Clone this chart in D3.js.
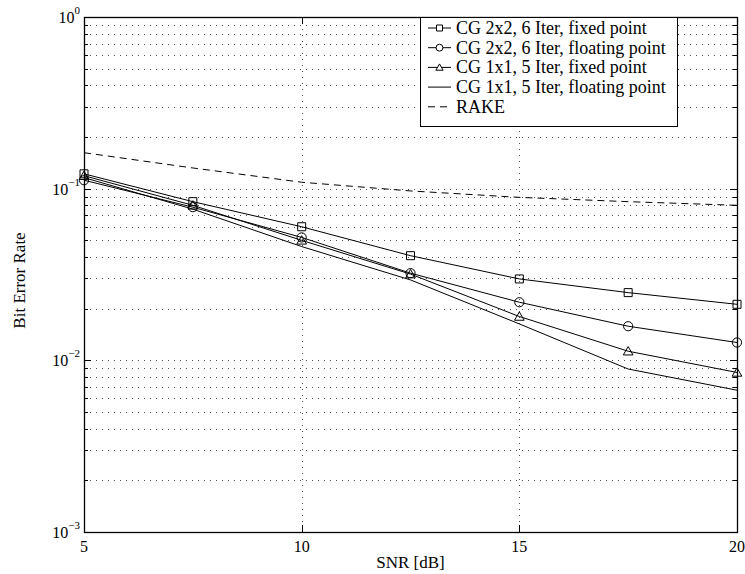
<!DOCTYPE html>
<html>
<head>
<meta charset="utf-8">
<script src="https://cdn.jsdelivr.net/npm/d3@7/dist/d3.min.js"></script>
<style>
  html, body { margin: 0; padding: 0; background: #fff; }
  svg { display: block; font-family: "Liberation Serif", "Times New Roman", serif; }
</style>
</head>
<body>
<svg id="chart" width="745" height="574"></svg>
<script>
// SNR sweep points (dB)
const snr = [5, 7.5, 10, 12.5, 15, 17.5, 20];

// Bit error rate per receiver configuration
const cg22Fixed = [0.122, 0.084, 0.060, 0.0407, 0.0298, 0.0248, 0.0212];
const cg22Float = [0.112, 0.078, 0.052, 0.0322, 0.0218, 0.0158, 0.0127];
const cg11Fixed = [0.119, 0.080, 0.050, 0.0318, 0.0180, 0.0113, 0.0085];
const cg11Float = [0.116, 0.076, 0.046, 0.0294, 0.0163, 0.0089, 0.0067];
const rake      = [0.162, 0.132, 0.109, 0.097, 0.089, 0.084, 0.080];

const seriesNames = [
  "CG 2x2, 6 Iter, fixed point",
  "CG 2x2, 6 Iter, floating point",
  "CG 1x1, 5 Iter, fixed point",
  "CG 1x1, 5 Iter, floating point",
  "RAKE"
];

const xTicks = [5, 10, 15, 20];
const yDecades = [-3, -2, -1, 0];

const series = [
  { name: seriesNames[0], values: cg22Fixed, marker: "square", dash: null },
  { name: seriesNames[1], values: cg22Float, marker: "circle", dash: null },
  { name: seriesNames[2], values: cg11Fixed, marker: "triangle", dash: null },
  { name: seriesNames[3], values: cg11Float, marker: null, dash: null },
  { name: seriesNames[4], values: rake, marker: null, dash: "7,5" }
];

const plotL = 84, plotR = 737, plotT = 17, plotB = 532;
const svg = d3.select("#chart");

const x = d3.scaleLinear().domain([5, 20]).range([plotL, plotR]);
const y = d3.scaleLog().domain([1e-3, 1]).range([plotB, plotT]);

// Dotted grid
const grid = svg.append("g")
  .attr("stroke", "#000").attr("stroke-width", 1)
  .attr("stroke-dasharray", "1,5").attr("opacity", 0.7)
  .attr("shape-rendering", "crispEdges");

const yGridVals = [];
for (let e = -3; e < 0; e++) {
  for (let m = 1; m <= 9; m++) {
    const v = m * Math.pow(10, e);
    if (v > 1e-3 && v < 1) yGridVals.push(v);
  }
}
grid.selectAll("line.h").data(yGridVals).join("line").attr("class", "h")
  .attr("x1", plotL).attr("x2", plotR)
  .attr("y1", d => Math.round(y(d)) + 0.5).attr("y2", d => Math.round(y(d)) + 0.5);
grid.selectAll("line.v").data(xTicks.slice(1, -1)).join("line").attr("class", "v")
  .attr("x1", d => Math.round(x(d)) + 0.5).attr("x2", d => Math.round(x(d)) + 0.5)
  .attr("y1", plotT).attr("y2", plotB);

// Ticks on all four sides (inward)
const ticks = svg.append("g").attr("stroke", "#000").attr("stroke-width", 1)
  .attr("shape-rendering", "crispEdges");
yGridVals.forEach(v => {
  const isMajor = Math.abs(Math.log10(v) - Math.round(Math.log10(v))) < 1e-9;
  const len = isMajor ? 7 : 4;
  const yy = Math.round(y(v)) + 0.5;
  ticks.append("line").attr("x1", plotL).attr("x2", plotL + len).attr("y1", yy).attr("y2", yy);
  ticks.append("line").attr("x1", plotR).attr("x2", plotR - len).attr("y1", yy).attr("y2", yy);
});
xTicks.forEach(t => {
  const xx = Math.round(x(t)) + 0.5;
  ticks.append("line").attr("x1", xx).attr("x2", xx).attr("y1", plotB).attr("y2", plotB - 7);
  ticks.append("line").attr("x1", xx).attr("x2", xx).attr("y1", plotT).attr("y2", plotT + 7);
});

// Series lines
const line = d3.line().x((d, i) => x(snr[i])).y(d => y(d));
const lines = svg.append("g");
series.forEach(s => {
  lines.append("path")
    .attr("d", line(s.values))
    .attr("fill", "none").attr("stroke", "#000").attr("stroke-width", 1)
    .attr("stroke-dasharray", s.dash);
});

// Marker shapes
function markerPath(type, r) {
  if (type === "square") return `M${-r},${-r}H${r}V${r}H${-r}Z`;
  if (type === "circle") return d3.arc()({ innerRadius: 0, outerRadius: r, startAngle: 0, endAngle: 2 * Math.PI });
  if (type === "triangle") return `M0,${-r * 1.05}L${r * 1.1},${r * 0.85}L${-r * 1.1},${r * 0.85}Z`;
  return "";
}
const markerR = { square: 4, circle: 4.6, triangle: 4.4 };
series.filter(s => s.marker).forEach(s => {
  svg.append("g").selectAll("path").data(s.values).join("path")
    .attr("transform", (d, i) => `translate(${x(snr[i])},${y(d)})`)
    .attr("d", markerPath(s.marker, markerR[s.marker]))
    .attr("fill", "none").attr("stroke", "#000").attr("stroke-width", 1);
});

// Axes frame
svg.append("rect")
  .attr("x", plotL + 0.5).attr("y", plotT + 0.5)
  .attr("width", plotR - plotL).attr("height", plotB - plotT)
  .attr("fill", "none").attr("stroke", "#000").attr("stroke-width", 1.3);

// Y tick labels (powers of ten)
const yLab = svg.append("g").attr("fill", "#000");
yDecades.forEach(e => {
  const t = yLab.append("text")
    .attr("x", 80).attr("y", y(Math.pow(10, e)) + 6)
    .attr("text-anchor", "end").attr("font-size", 16);
  t.append("tspan").text("10");
  t.append("tspan").attr("dy", -9).attr("font-size", 11).text(e === 0 ? "0" : "\u2212" + (-e));
});

// X tick labels
svg.append("g").selectAll("text").data(xTicks).join("text")
  .attr("x", d => x(d)).attr("y", 552)
  .attr("text-anchor", "middle").attr("font-size", 16)
  .text(d => d);

// Axis titles
svg.append("text").attr("x", (plotL + plotR) / 2).attr("y", 568)
  .attr("text-anchor", "middle").attr("font-size", 17).text("SNR [dB]");
svg.append("text").attr("transform", `translate(25,${(plotT + plotB) / 2 + 6}) rotate(-90)`)
  .attr("text-anchor", "middle").attr("font-size", 17).text("Bit Error Rate");

// Legend
const lg = svg.append("g");
lg.append("rect").attr("x", 420.5).attr("y", plotT + 0.5).attr("width", 257).attr("height", 109)
  .attr("fill", "#fff").attr("stroke", "#000").attr("stroke-width", 1);
series.forEach((s, i) => {
  const cy = 28 + i * 19.7;
  lg.append("line").attr("x1", 428).attr("x2", 451).attr("y1", cy).attr("y2", cy)
    .attr("stroke", "#000").attr("stroke-width", 1).attr("stroke-dasharray", s.dash);
  if (s.marker) {
    lg.append("path").attr("transform", `translate(439.5,${cy})`)
      .attr("d", markerPath(s.marker, markerR[s.marker] * 0.75))
      .attr("fill", "#fff").attr("stroke", "#000").attr("stroke-width", 1);
  }
  lg.append("text").attr("x", 456).attr("y", cy + 6).attr("font-size", 18).text(s.name);
});
</script>
</body>
</html>
